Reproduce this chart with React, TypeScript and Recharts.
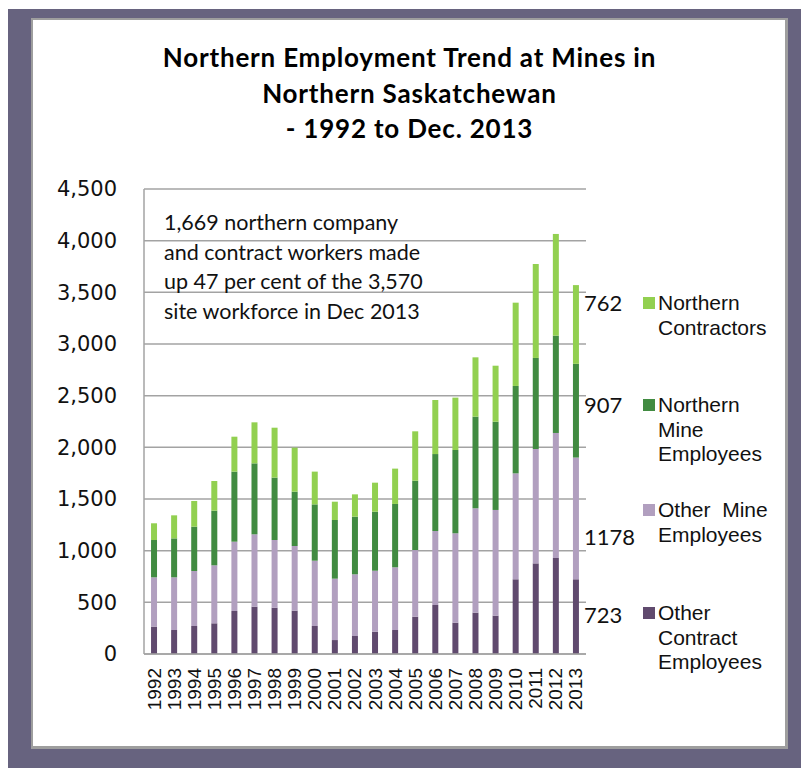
import React from "react";
import {
  Bar,
  BarChart,
  CartesianGrid,
  LabelList,
  Legend,
  XAxis,
  YAxis,
} from "recharts";

const YEARS = [
  "1992", "1993", "1994", "1995", "1996", "1997", "1998", "1999", "2000", "2001", "2002",
  "2003", "2004", "2005", "2006", "2007", "2008", "2009", "2010", "2011", "2012", "2013",
];

const OTHER_CONTRACT = [
  265, 232, 271, 297, 416, 458, 448, 419, 271, 135, 174,
  216, 232, 361, 474, 303, 400, 371, 723, 877, 929, 723,
];
const OTHER_MINE = [
  477, 510, 532, 561, 671, 700, 655, 626, 632, 594, 597,
  590, 607, 645, 716, 865, 1010, 1023, 1025, 1107, 1210, 1178,
];
const NORTHERN_MINE = [
  361, 377, 429, 529, 678, 687, 604, 526, 545, 568, 558,
  571, 613, 671, 745, 806, 887, 854, 846, 881, 942, 907,
];
const NORTHERN_CONTRACT = [
  162, 223, 249, 287, 338, 397, 483, 426, 317, 177, 216,
  281, 342, 478, 523, 507, 574, 542, 806, 909, 984, 762,
];

const Y_TICKS = [0, 500, 1000, 1500, 2000, 2500, 3000, 3500, 4000, 4500];

const TITLE_LINES = [
  "Northern Employment Trend at Mines in",
  "Northern Saskatchewan",
  "- 1992 to Dec. 2013",
];
const NOTE_LINES = [
  "1,669 northern company",
  "and contract workers made",
  "up 47 per cent of the 3,570",
  "site workforce in Dec 2013",
];

// bottom to top of the stack; dy nudges the end-of-bar value label
const SERIES = [
  { key: "otherContract", name: "Other\nContract\nEmployees", color: "#604a6e", values: OTHER_CONTRACT, dy: -2 },
  { key: "otherMine", name: "Other  Mine\nEmployees", color: "#b19fbf", values: OTHER_MINE, dy: 18 },
  { key: "northernMine", name: "Northern\nMine\nEmployees", color: "#418b41", values: NORTHERN_MINE, dy: -6 },
  { key: "northernContract", name: "Northern\nContractors", color: "#92d050", values: NORTHERN_CONTRACT, dy: -22 },
];

const rows = YEARS.map((year, i) => {
  const row: Record<string, string | number> = { year };
  SERIES.forEach((s) => {
    row[s.key] = s.values[i];
  });
  return row;
});

const FRAME = "#67637f";
const GRID = "#a3a3a3";
const CALIBRI_ISH = "Lato, 'Open Sans', sans-serif";
const ARIAL_ISH = "'Liberation Sans', Arial, sans-serif";

// legend entries sit next to their segment of the last bar
const LEGEND_TOPS = [311, 208, 103, 1];

const endLabel = (dy: number) => (props: any) => {
  const { x, y, width, height, value, index } = props;
  if (index !== YEARS.length - 1) return null;
  return (
    <text
      x={Number(x) + Number(width) + 5}
      y={Number(y) + Number(height) / 2 + dy}
      dominantBaseline="central"
      fontFamily={CALIBRI_ISH}
      fontSize={22}
      fill="#111"
    >
      {value}
    </text>
  );
};

const YearTick = (props: any) => {
  const { x, y, payload } = props;
  const ty = y + 14;
  return (
    <text
      x={x}
      y={ty}
      transform={`rotate(-90 ${x} ${ty})`}
      textAnchor="end"
      dominantBaseline="central"
      fontFamily={ARIAL_ISH}
      fontSize={19}
      fill="#111"
    >
      {payload.value}
    </text>
  );
};

const SideLegend = () => (
  <div style={{ position: "relative", width: 0, height: 0 }}>
    {SERIES.map((s, i) => (
      <div
        key={s.key}
        style={{
          position: "absolute",
          left: 0,
          top: LEGEND_TOPS[i],
          fontFamily: ARIAL_ISH,
          fontSize: 21,
          lineHeight: "24.5px",
          color: "#111",
          whiteSpace: "pre",
        }}
      >
        <span
          style={{
            position: "absolute",
            left: 0,
            top: 6,
            width: 12,
            height: 12,
            background: s.color,
          }}
        />
        <div style={{ marginLeft: 15 }}>{s.name}</div>
      </div>
    ))}
  </div>
);

export default function App() {
  return (
    <div
      style={{
        position: "relative",
        top: 1,
        width: 801,
        height: 760,
        background: FRAME,
        overflow: "hidden",
      }}
    >
      <div
        style={{
          position: "absolute",
          left: 23,
          top: 9,
          width: 757,
          height: 731,
          boxSizing: "border-box",
          background: "#fff",
          borderStyle: "solid",
          borderColor: "#9e9e9e",
          borderWidth: "2px 3px 3px 2px",
        }}
      />
      <div style={{ position: "absolute", left: 0, top: 0 }}>
        <BarChart
          width={801}
          height={760}
          data={rows}
          margin={{ top: 180, right: 223, bottom: 45, left: 0 }}
          barCategoryGap="35%"
        >
          <CartesianGrid vertical={false} stroke={GRID} strokeWidth={1.5} />
          <XAxis
            dataKey="year"
            axisLine={{ stroke: GRID, strokeWidth: 1.5 }}
            tickLine={false}
            tickSize={0}
            tickMargin={0}
            interval={0}
            height={70}
            tick={<YearTick />}
          />
          <YAxis
            width={136}
            domain={[0, 4500]}
            ticks={Y_TICKS}
            interval={0}
            axisLine={{ stroke: GRID, strokeWidth: 1.5 }}
            tickLine={false}
            tickSize={0}
            tickMargin={27}
            tickFormatter={(v: number) => v.toLocaleString("en-US")}
            tick={{ fontFamily: "'DejaVu Sans', sans-serif", fontSize: 21, fill: "#111" }}
          />
          <Legend
            content={<SideLegend />}
            wrapperStyle={{ left: 635, top: 281, width: 0, height: 0, overflow: "visible" }}
          />
          {SERIES.map((s) => (
            <Bar
              key={s.key}
              dataKey={s.key}
              name={s.name}
              stackId="jobs"
              fill={s.color}
              isAnimationActive={false}
            >
              <LabelList dataKey={s.key} content={endLabel(s.dy)} />
            </Bar>
          ))}
        </BarChart>
      </div>
      <div
        style={{
          position: "absolute",
          left: 23,
          top: 31,
          width: 757,
          textAlign: "center",
          fontFamily: CALIBRI_ISH,
          fontWeight: 700,
          fontSize: 26,
          letterSpacing: "0.8px",
          lineHeight: "35.5px",
          color: "#000",
        }}
      >
        {TITLE_LINES.map((t) => (
          <div key={t}>{t}</div>
        ))}
      </div>
      <div
        style={{
          position: "absolute",
          left: 156,
          top: 199,
          fontFamily: CALIBRI_ISH,
          fontSize: 21.5,
          lineHeight: "29.5px",
          color: "#111",
        }}
      >
        {NOTE_LINES.map((t) => (
          <div key={t}>{t}</div>
        ))}
      </div>
    </div>
  );
}
